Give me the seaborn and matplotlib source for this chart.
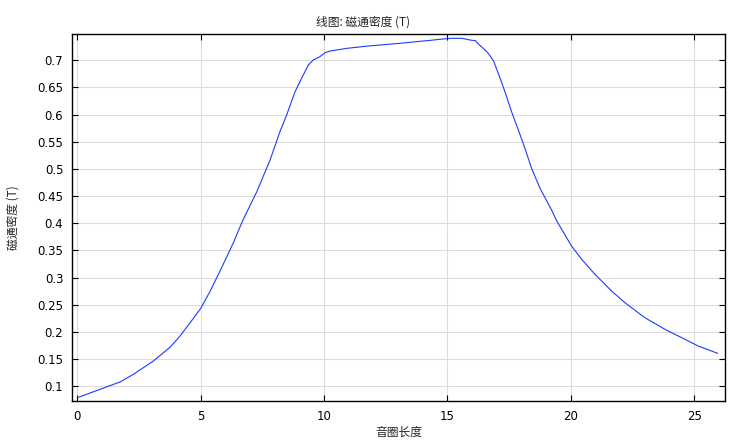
import numpy as np
import pandas as pd
import matplotlib
matplotlib.use("Agg")
import matplotlib.pyplot as plt
import seaborn as sns
from matplotlib.ticker import FuncFormatter, MultipleLocator

# 音圈长度 (x) 与磁通密度 (T) 读数
coil_length = [0.0, 0.92, 1.73, 2.27, 3.08, 3.76, 4.16, 4.57, 5.0, 5.38, 5.78, 6.32, 6.70,
               7.27, 7.81, 8.21, 8.48, 8.82, 9.09, 9.36, 9.56, 9.83, 10.04, 10.24, 10.92,
               11.79, 13.0, 14.36, 14.70, 15.17, 15.58, 15.91, 16.14, 16.25, 16.45, 16.65,
               16.86, 17.06, 17.33, 17.6, 17.87, 18.14, 18.41, 18.75, 19.22, 19.42, 20.03,
               20.44, 20.98, 21.65, 22.19, 23.0, 23.81, 24.62, 25.16, 25.95]
flux_density = [0.079, 0.0945, 0.108, 0.122, 0.1466, 0.172, 0.1926, 0.217, 0.2435, 0.275,
                0.312, 0.364, 0.405, 0.458, 0.5165, 0.5686, 0.599, 0.642, 0.667, 0.6914,
                0.7006, 0.7066, 0.714, 0.717, 0.722, 0.7263, 0.731, 0.737, 0.7387, 0.7405,
                0.7405, 0.7374, 0.736, 0.730, 0.722, 0.713, 0.6993, 0.676, 0.642, 0.605,
                0.572, 0.538, 0.501, 0.4645, 0.4245, 0.405, 0.358, 0.3337, 0.306, 0.2754,
                0.2539, 0.2263, 0.205, 0.1866, 0.1742, 0.1607]

title = "线图: 磁通密度 (T)"
x_label = "音圈长度"
y_label = "磁通密度 (T)"

sns.set_theme(style="ticks")
plt.rcParams['font.family'] = ['DejaVu Sans', 'Noto Sans CJK SC']

df = pd.DataFrame({"x": coil_length, "y": flux_density})

fig = plt.figure(figsize=(7.31, 4.42), dpi=100)
ax = fig.add_axes([71.7 / 731, 1 - 401.3 / 442, (725.3 - 71.7) / 731, (401.3 - 34) / 442])

sns.lineplot(data=df, x="x", y="y", ax=ax, color="#1a3cff", linewidth=0.8)

ax.set_xlim(-0.23, 26.26)
ax.set_ylim(0.0724, 0.7484)
ax.xaxis.set_major_locator(MultipleLocator(5))
ax.yaxis.set_major_locator(MultipleLocator(0.05))
ax.yaxis.set_major_formatter(FuncFormatter(lambda v, p: f"{v:g}"))

ax.grid(True, color="#dddddd", linewidth=0.8)
ax.set_axisbelow(True)
ax.tick_params(direction="in", length=4, width=0.8, top=True, right=True,
               labeltop=False, labelright=False, labelsize=8.5, colors="black", pad=6)
for s in ax.spines.values():
    s.set_linewidth(1.0)
    s.set_color("black")

ax.set_xlabel(x_label, fontsize=8.5, family=['Noto Sans CJK SC', 'DejaVu Sans'], labelpad=2)
ax.set_ylabel(y_label, fontsize=8.5, family=['Noto Sans CJK SC', 'DejaVu Sans'], labelpad=13)
fig.text(0.497, 1 - 22 / 442, title, ha="center", va="center", fontsize=8.5,
         family=['Noto Sans CJK SC', 'DejaVu Sans'])

fig.savefig("out.png", dpi=100)
